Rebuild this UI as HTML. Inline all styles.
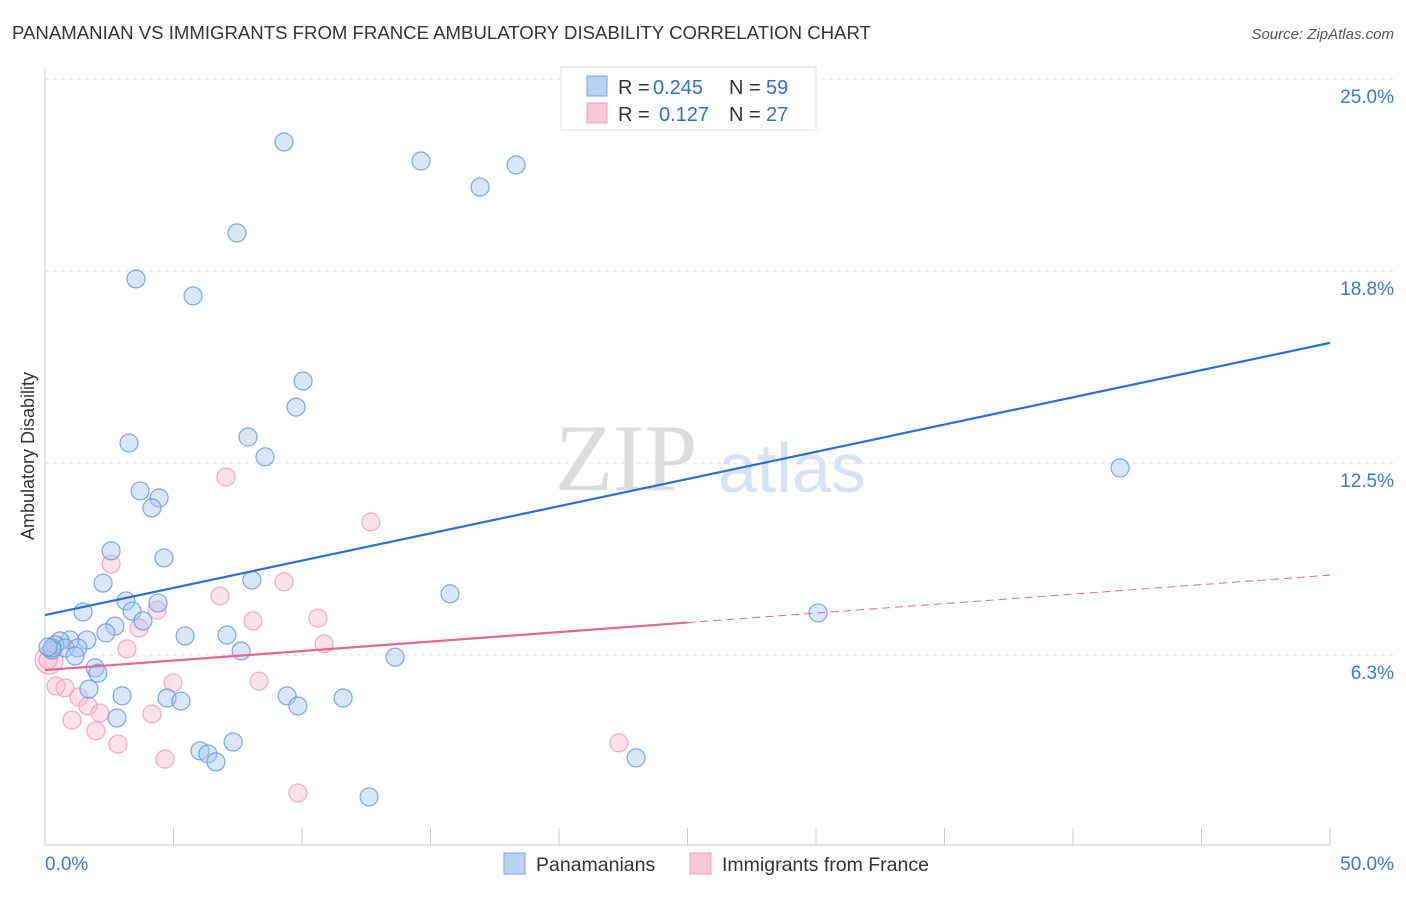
<!DOCTYPE html>
<html><head><meta charset="utf-8"><style>
body{margin:0;background:#fff;font-family:"Liberation Sans",sans-serif}
</style></head><body>
<svg id="chart" width="1406" height="892" font-family="Liberation Sans, sans-serif">
<text x="12" y="39" font-size="18.6" fill="#333">PANAMANIAN VS IMMIGRANTS FROM FRANCE AMBULATORY DISABILITY CORRELATION CHART</text>
<text x="1394" y="39" font-size="15" fill="#555" text-anchor="end" font-style="italic">Source: ZipAtlas.com</text>
<text x="555" y="490" font-size="95" fill="#dcdcdc" style="font-family:'Liberation Serif',serif">ZIP</text>
<text x="718" y="492" font-size="70" fill="#d5e3f5">atlas</text>
<g id="grid"></g>
<line x1="45" y1="68" x2="45" y2="845" stroke="#ccc"/>
<line x1="45" y1="845" x2="1330" y2="845" stroke="#ccc"/>
<g id="ticks"></g>
<text transform="translate(34,456) rotate(-90)" font-size="18" fill="#333" text-anchor="middle">Ambulatory Disability</text>
<text x="45" y="870" font-size="19" fill="#3a78d4">0.0%</text>
<text x="1394" y="870" font-size="19" fill="#3a78d4" text-anchor="end">50.0%</text>
<g id="marks"></g>
<g>
<rect x="561" y="67" width="255" height="63" fill="#fff" stroke="#ddd"/>
<rect x="587" y="76" width="20" height="20" fill="#b8d2f4" stroke="#7aa6e0"/>
<rect x="587" y="103" width="20" height="20" fill="#f9c8d7" stroke="#f0a0b8"/>
<text x="618" y="94" font-size="20" fill="#333">R =</text>
<text x="653" y="94" font-size="20" fill="#2f6fd0">0.245</text>
<text x="729" y="94" font-size="20" fill="#333">N =</text>
<text x="766" y="94" font-size="20" fill="#2f6fd0">59</text>
<text x="618" y="121" font-size="20" fill="#333">R =</text>
<text x="659" y="121" font-size="20" fill="#2f6fd0">0.127</text>
<text x="729" y="121" font-size="20" fill="#333">N =</text>
<text x="766" y="121" font-size="20" fill="#2f6fd0">27</text>
</g>
<g>
<rect x="504" y="853" width="21" height="21" fill="#b8d2f4" stroke="#7aa6e0"/>
<text x="536" y="871" font-size="19.5" fill="#333">Panamanians</text>
<rect x="690" y="853" width="21" height="21" fill="#f9c8d7" stroke="#f0a0b8"/>
<text x="722" y="871" font-size="19.5" fill="#333">Immigrants from France</text>
</g>
</svg>
<script>
const yTicks=[6.25,12.5,18.75,25];
const yTickLabels=["6.3%","12.5%","18.8%","25.0%"];
const xTickCount=10;
const blueX=[9.30,14.63,18.33,16.93,7.47,3.54,5.76,10.04,9.77,3.27,7.90,8.56,3.70,4.44,4.16,2.57,4.63,2.26,8.05,15.76,3.15,4.40,1.48,3.39,3.81,2.72,2.37,5.45,7.08,1.63,0.97,0.58,0.39,0.78,1.28,0.27,1.17,7.63,13.62,1.95,2.06,1.71,3.00,9.42,11.60,4.75,5.29,9.84,2.80,7.32,6.03,6.34,6.65,23.0,12.61,30.08,41.83,0.27,0.12];
const blueY=[22.95,22.33,22.20,21.48,19.99,18.49,17.94,15.17,14.32,13.15,13.35,12.70,11.59,11.36,11.04,9.64,9.41,8.59,8.69,8.24,8.01,7.94,7.65,7.68,7.36,7.19,6.97,6.87,6.90,6.74,6.74,6.71,6.58,6.48,6.48,6.41,6.22,6.38,6.18,5.83,5.66,5.14,4.92,4.92,4.85,4.85,4.75,4.59,4.20,3.42,3.13,3.03,2.77,2.90,1.63,7.62,12.34,6.48,6.51];
const pinkX=[0.16,7.04,12.68,2.57,9.30,6.81,4.36,8.09,10.62,3.66,3.19,10.86,0.43,0.78,1.32,1.67,2.14,4.98,8.33,1.05,1.98,4.16,2.84,4.67,22.33,9.84,0.12];
const pinkY=[6.09,12.04,10.58,9.21,8.63,8.17,7.71,7.36,7.45,7.13,6.45,6.61,5.24,5.18,4.88,4.59,4.36,5.34,5.40,4.13,3.78,4.33,3.35,2.86,3.39,1.76,6.09];
const blueTrend=[7.55,16.41];
const pinkTrend=[5.76,8.85];
const NS="http://www.w3.org/2000/svg";
const X=v=>45+v*25.7, Y=v=>847-v*30.72;
function mk(tag,attrs,parent){const e=document.createElementNS(NS,tag);for(const k in attrs)e.setAttribute(k,attrs[k]);document.getElementById(parent).appendChild(e);return e;}
yTicks.forEach((t,i)=>{
 const l=mk('line',{x1:45,x2:1394,y1:Y(t),y2:Y(t),stroke:'#ddd','stroke-dasharray':'4,4'},'grid');
 
 
 const tx=mk('text',{x:1394,y:Y(t)+24,'font-size':19,fill:'#3a78d4','text-anchor':'end'},'grid');
 tx.textContent=yTickLabels[i];
 
 
});
for(let i=1;i<=xTickCount;i++){
 const l=mk('line',{x1:X(i*5),x2:X(i*5),y1:828,y2:845,stroke:'#ccc'},'ticks');
 
 
}
function pt(x,y,r,f,s,name){
 const c=mk('circle',{cx:X(x),cy:Y(y),r:r,fill:f,'fill-opacity':0.45,stroke:s,'stroke-opacity':0.8,'stroke-width':1.2},'marks');
 
 
}
pinkX.forEach((x,i)=>pt(x,pinkY[i],i==0?14:9,'#f7bdd0','#ee9ab4','france-point'));
blueX.forEach((x,i)=>pt(x,blueY[i],9,'#a9c8f0','#5f95dc','panamanian-point'));
let l=mk('line',{x1:X(0),y1:Y(blueTrend[0]),x2:X(50),y2:Y(blueTrend[1]),stroke:'#2a6fd6','stroke-width':2.2},'marks');


const pm=pinkTrend[0]+(pinkTrend[1]-pinkTrend[0])*0.5;
l=mk('line',{x1:X(0),y1:Y(pinkTrend[0]),x2:X(25),y2:Y(pm),stroke:'#e8658e','stroke-width':2.2},'marks');


l=mk('line',{x1:X(25),y1:Y(pm),x2:X(50),y2:Y(pinkTrend[1]),stroke:'#e8658e','stroke-width':1,'stroke-dasharray':'8,5'},'marks');


</script>
</body></html>
